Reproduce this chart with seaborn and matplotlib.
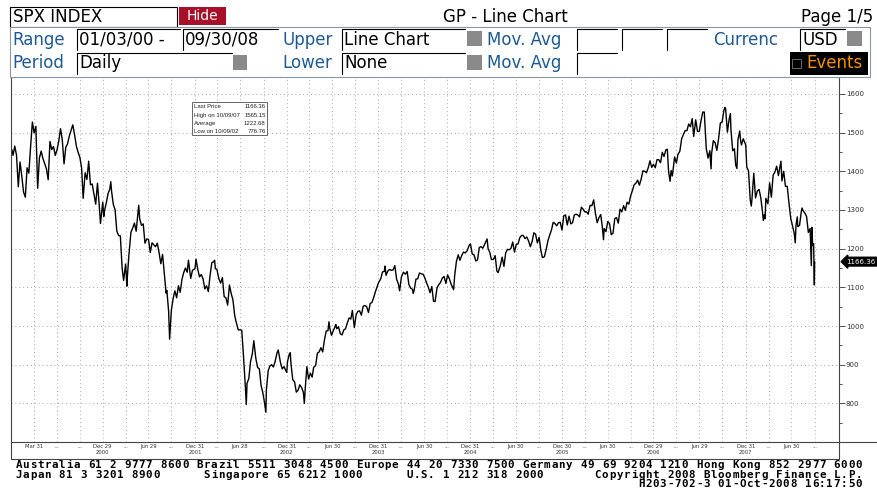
import pandas as pd
import numpy as np
import matplotlib.pyplot as plt
import matplotlib.dates as mdates
import seaborn as sns
from matplotlib.patches import Rectangle
from matplotlib.lines import Line2D

# SPX closes (weekly-ish, with the daily extremes)
d2000 = ["01-03","01-07","01-14","01-21","01-28","02-04","02-11","02-18","02-25","03-03","03-10","03-17","03-24","03-31",
         "04-07","04-14","04-21","04-28","05-05","05-12","05-19","05-26","06-02","06-09","06-16","06-23","06-30",
         "07-07","07-14","07-21","07-28","08-04","08-11","08-18","08-25","09-01","09-08","09-15","09-22","09-29",
         "10-06","10-12","10-20","10-27","11-03","11-10","11-17","11-24","12-01","12-08","12-15","12-20","12-29"]
c2000 = [1455,1441,1465,1441,1360,1424,1387,1346,1333,1409,1395,1464,1527,1499,
         1516,1356,1434,1452,1433,1420,1406,1378,1477,1456,1464,1441,1455,
         1478,1510,1481,1419,1462,1471,1491,1506,1520,1494,1465,1449,1436,
         1408,1330,1396,1379,1426,1365,1367,1341,1315,1369,1312,1265,1320]

d2001 = ["01-02","01-05","01-12","01-19","01-26","01-30","02-02","02-09","02-16","02-23","03-02","03-09","03-16","03-22","03-30",
         "04-04","04-06","04-12","04-20","04-27","05-04","05-11","05-21","05-25","06-01","06-08","06-15","06-22","06-29",
         "07-06","07-13","07-20","07-27","08-03","08-10","08-17","08-24","08-31","09-07","09-10","09-17","09-21","09-28",
         "10-05","10-12","10-19","10-26","11-02","11-09","11-16","11-23","11-30","12-05","12-14","12-21","12-31"]
c2001 = [1283,1298,1318,1342,1354,1373,1349,1314,1301,1245,1234,1233,1150,1118,1160,
         1103,1128,1183,1242,1253,1266,1245,1312,1277,1260,1264,1214,1225,1224,
         1190,1215,1210,1205,1214,1190,1161,1185,1134,1085,1092,1039,966,1041,
         1071,1091,1073,1104,1087,1120,1138,1150,1139,1170,1123,1144,1148]

d2002 = ["01-04","01-11","01-18","01-25","02-01","02-08","02-15","02-22","03-01","03-08","03-15","03-19","03-22","03-28",
         "04-05","04-12","04-19","04-26","05-03","05-10","05-17","05-24","05-31","06-07","06-14","06-21","06-28",
         "07-05","07-12","07-19","07-23","07-26","08-02","08-09","08-16","08-22","08-30","09-06","09-13","09-20","09-27",
         "10-04","10-09","10-11","10-18","10-25","11-01","11-08","11-15","11-22","11-27","12-06","12-13","12-20","12-31"]
c2002 = [1173,1146,1127,1133,1122,1096,1104,1089,1131,1164,1166,1170,1148,1147,
         1122,1111,1125,1076,1073,1054,1106,1084,1067,1027,1007,990,990,
         989,921,847,797,852,864,908,928,962,916,893,889,846,827,
         800,777,835,884,897,900,894,909,930,938,906,889,895,880]

d2003 = ["01-03","01-10","01-14","01-17","01-24","01-31","02-07","02-14","02-21","02-28","03-07","03-11","03-14","03-21","03-28",
         "04-04","04-11","04-17","04-25","05-02","05-09","05-16","05-23","05-30","06-06","06-13","06-17","06-20","06-27",
         "07-03","07-11","07-14","07-18","07-25","08-01","08-08","08-15","08-22","08-29","09-05","09-12","09-18","09-26",
         "10-03","10-10","10-17","10-24","10-31","11-07","11-14","11-21","11-28","12-05","12-12","12-19","12-31"]
c2003 = [908,927,931,901,861,856,829,834,848,841,829,800,833,895,863,
         878,868,893,898,930,933,944,933,964,987,988,1011,995,976,
         986,998,1004,993,998,980,977,990,993,1008,1021,1018,1040,996,
         1029,1038,1039,1028,1051,1053,1050,1035,1058,1061,1074,1089,1112]

d2004 = ["01-09","01-16","01-23","01-26","01-30","02-06","02-13","02-20","02-27","03-05","03-12","03-19","03-24","03-31",
         "04-08","04-16","04-23","04-30","05-07","05-14","05-17","05-21","05-28","06-04","06-11","06-18","06-25",
         "07-02","07-09","07-16","07-23","07-30","08-06","08-12","08-20","08-27","09-03","09-10","09-17","09-24",
         "10-01","10-08","10-15","10-25","10-29","11-05","11-12","11-19","11-26","12-03","12-10","12-17","12-27","12-31"]
c2004 = [1122,1140,1141,1155,1131,1142,1146,1144,1145,1156,1121,1109,1091,1126,
         1139,1134,1141,1107,1098,1095,1084,1093,1121,1122,1137,1135,1134,
         1125,1112,1101,1086,1102,1064,1063,1099,1107,1113,1124,1128,1110,
         1132,1122,1108,1094,1130,1167,1184,1170,1182,1191,1189,1194,1210,1212]

d2005 = ["01-07","01-14","01-21","01-28","02-04","02-11","02-18","02-25","03-07","03-11","03-18","03-24",
         "04-01","04-08","04-15","04-20","04-29","05-06","05-13","05-20","05-27","06-03","06-10","06-17","06-24",
         "07-01","07-08","07-15","07-22","07-29","08-05","08-12","08-19","08-26","09-02","09-09","09-16","09-23","09-30",
         "10-07","10-13","10-21","10-28","11-04","11-11","11-18","11-25","12-02","12-09","12-16","12-23","12-30"]
c2005 = [1186,1184,1168,1171,1203,1205,1201,1211,1225,1200,1190,1172,
         1172,1182,1142,1138,1157,1178,1154,1189,1198,1197,1201,1217,1191,
         1211,1212,1228,1234,1234,1226,1230,1220,1205,1218,1241,1237,1215,1229,
         1195,1177,1179,1198,1220,1235,1248,1268,1265,1259,1267,1268,1248]

d2006 = ["01-06","01-13","01-20","01-27","02-03","02-10","02-17","02-24","03-03","03-10","03-17","03-24","03-31",
         "04-07","04-13","04-21","04-28","05-05","05-12","05-19","05-26","06-02","06-09","06-13","06-16","06-23","06-30",
         "07-07","07-14","07-21","07-28","08-04","08-11","08-18","08-25","09-01","09-08","09-15","09-22","09-29",
         "10-06","10-13","10-20","10-27","11-03","11-10","11-17","11-24","12-01","12-08","12-15","12-22","12-29"]
c2006 = [1285,1287,1261,1284,1264,1267,1287,1289,1287,1282,1307,1302,1295,
         1295,1289,1312,1311,1326,1291,1267,1280,1288,1253,1223,1252,1244,1270,
         1265,1236,1240,1278,1280,1266,1302,1295,1311,1299,1320,1315,1336,
         1350,1365,1369,1377,1364,1380,1401,1400,1396,1409,1427,1410,1418]

d2007 = ["01-05","01-12","01-19","01-26","02-02","02-09","02-16","02-22","02-27","03-05","03-09","03-14","03-23","03-30",
         "04-05","04-13","04-20","04-27","05-04","05-11","05-18","05-25","06-01","06-07","06-15","06-22","06-29",
         "07-06","07-13","07-19","07-27","08-03","08-10","08-15","08-17","08-24","08-31","09-07","09-14","09-21","09-28",
         "10-05","10-09","10-12","10-19","10-26","10-31","11-02","11-09","11-16","11-21","11-26","11-30",
         "12-07","12-11","12-14","12-21","12-31"]
c2007 = [1409,1430,1430,1422,1449,1438,1455,1457,1399,1374,1402,1388,1437,1421,
         1443,1452,1484,1495,1505,1505,1522,1515,1536,1490,1533,1503,1503,
         1530,1553,1553,1458,1434,1453,1406,1445,1479,1474,1454,1484,1525,1527,
         1557,1565,1561,1501,1535,1549,1509,1453,1458,1416,1407,1481,
         1504,1477,1468,1484,1468]

d2008 = ["01-04","01-11","01-18","01-22","01-25","02-01","02-08","02-15","02-22","02-29","03-07","03-10","03-14","03-17","03-20","03-28",
         "04-04","04-11","04-18","04-25","05-02","05-09","05-19","05-23","05-30","06-06","06-13","06-20","06-27",
         "07-03","07-11","07-15","07-18","07-23","07-25","08-01","08-08","08-11","08-15","08-22","08-29",
         "09-05","09-12","09-15","09-17","09-19","09-22","09-26","09-29","09-30"]
c2008 = [1411,1401,1325,1310,1330,1395,1331,1349,1353,1331,1293,1273,1288,1277,1330,1316,
         1370,1333,1390,1398,1413,1389,1426,1375,1400,1361,1361,1318,1278,
         1262,1239,1215,1261,1282,1257,1260,1296,1305,1298,1292,1283,
         1242,1252,1193,1156,1255,1208,1213,1106,1166.36]

# quarter-end ticks, labelled the Bloomberg way
q_dates = ["2000-03-31","2000-06-30","2000-09-29","2000-12-29","2001-03-30","2001-06-29","2001-09-28","2001-12-31",
           "2002-03-28","2002-06-28","2002-09-30","2002-12-31","2003-03-31","2003-06-30","2003-09-30","2003-12-31",
           "2004-03-31","2004-06-30","2004-09-30","2004-12-31","2005-03-31","2005-06-30","2005-09-30","2005-12-30",
           "2006-03-31","2006-06-30","2006-09-29","2006-12-29","2007-03-30","2007-06-29","2007-09-28","2007-12-31",
           "2008-03-31","2008-06-30","2008-09-30"]
q_labels = ["Mar 31","...","...","Dec 29\n2000","...","Jun 29","...","Dec 31\n2001",
            "...","Jun 28","...","Dec 31\n2002","...","Jun 30","...","Dec 31\n2003",
            "...","Jun 30","...","Dec 31\n2004","...","Jun 30","...","Dec 30\n2005",
            "...","Jun 30","...","Dec 29\n2006","...","Jun 29","...","Dec 31\n2007",
            "...","Jun 30","..."]

info_labels = ["Last Price", "High on 10/09/07", "Average", "Low on 10/09/02"]
info_values = ["1166.36", "1565.15", "1222.68", "776.76"]
last_price = 1166.36

years = [(2000, d2000, c2000), (2001, d2001, c2001), (2002, d2002, c2002), (2003, d2003, c2003),
         (2004, d2004, c2004), (2005, d2005, c2005), (2006, d2006, c2006), (2007, d2007, c2007),
         (2008, d2008, c2008)]
frames = []
for yr, dd, cc in years:
    frames.append(pd.DataFrame({"date": pd.to_datetime([f"{yr}-{d}" for d in dd]), "close": cc}))
df = pd.concat(frames, ignore_index=True)

sns.set_style("white")
plt.rcParams['font.family'] = ['DejaVu Sans']

W, H = 877, 493
fig = plt.figure(figsize=(W / 100, H / 100), dpi=100)

def fx(x):
    return x / W

def fy(y):
    return 1 - y / H

def rect(x0, y0, x1, y1, fc, ec="none", lw=0.8):
    fig.add_artist(Rectangle((fx(x0), fy(y1)), (x1 - x0) / W, (y1 - y0) / H,
                             transform=fig.transFigure, facecolor=fc, edgecolor=ec, linewidth=lw))

def line(x0, y0, x1, y1, color="#444444", lw=0.8):
    fig.add_artist(Line2D([fx(x0), fx(x1)], [fy(y0), fy(y1)], transform=fig.transFigure, color=color, linewidth=lw))

def inbox(x0, y0, x1, y1):
    # entry field: white with dark top/left edge
    rect(x0, y0, x1, y1, "white")
    line(x0, y0, x1, y0, "black", 0.8)
    line(x0, y0, x0, y1, "black", 0.8)

blue = "#1d5a94"
grey_sq = "#8a8a8a"

# ---- chart ----
ax = fig.add_axes([fx(11), fy(441.7), 828 / W, (441.7 - 78) / H])
sns.lineplot(data=df, x="date", y="close", ax=ax, color="black", linewidth=1.0)

ax.set_xlim(pd.Timestamp("1999-12-30"), pd.Timestamp("2009-01-05"))
ax.set_ylim(701, 1641)
ax.set_xlabel("")
ax.set_ylabel("")

ax.yaxis.tick_right()
ax.set_yticks(range(800, 1700, 100))
ax.set_yticks(range(750, 1650, 50), minor=True)
ax.tick_params(axis="y", which="major", direction="out", length=4, width=0.6, labelsize=5, pad=1,
               colors="#333333", right=True, left=False)
ax.tick_params(axis="y", which="minor", direction="out", length=2, width=0.6, colors="#333333",
               right=True, left=False)

ax.set_xticks(pd.to_datetime(q_dates))
ax.set_xticklabels(q_labels)
ax.xaxis.set_minor_locator(mdates.MonthLocator())
ax.tick_params(axis="x", which="major", direction="in", length=3, width=0.6, labelsize=3.8, pad=1.5,
               colors="#333333")
ax.tick_params(axis="x", which="minor", direction="in", length=2, width=0.5, colors="#333333")

ax.grid(True, which="major", color="#a8a8a8", linestyle=(0, (1, 3)), linewidth=0.7)
ax.spines["top"].set_visible(False)
for s in ["left", "right", "bottom"]:
    ax.spines[s].set_color("#444444")
    ax.spines[s].set_linewidth(0.8)

ax.annotate(f"{last_price:.2f}", xy=(1.0, last_price), xycoords=("axes fraction", "data"),
            xytext=(5, 0), textcoords="offset points", ha="left", va="center", fontsize=5, color="white",
            bbox=dict(boxstyle="larrow,pad=0.2", fc="black", ec="black"), annotation_clip=False)

# stats box
rect(192, 102, 267, 135, "white", "#666666", 0.7)
for i, (lab, val) in enumerate(zip(info_labels, info_values)):
    yy = 107 + i * 8.2
    fig.text(fx(194), fy(yy), lab, fontsize=4.3, va="center", ha="left", color="#222222", family="Liberation Sans")
    fig.text(fx(265.5), fy(yy), val, fontsize=4.3, va="center", ha="right", color="#222222", family="Liberation Sans")

# frame under the axis (label strip)
line(11, 441.7, 11, 459)
line(839, 441.7, 839, 459)
line(11, 459, 839, 459)
line(839, 441.7, 877, 441.7)

# ---- header ----
rect(10, 7, 177, 27, "white", "black", 0.8)
fig.text(fx(13), fy(17), "SPX INDEX", fontsize=12, va="center", color="black")
rect(179, 7, 226, 25, "#a8102a")
fig.text(fx(202.5), fy(16.5), "Hide", fontsize=10, va="center", ha="center", color="white")
fig.text(fx(505), fy(17), "GP - Line Chart", fontsize=12, va="center", ha="center", color="black")
fig.text(fx(873), fy(17), "Page 1/5", fontsize=12, va="center", ha="right", color="black")

rect(10, 27, 870, 77, "white", "#8a96a3", 0.8)

# row 2
fig.text(fx(12), fy(40), "Range", fontsize=12, va="center", color=blue)
inbox(77, 29, 180, 50)
fig.text(fx(79), fy(40), "01/03/00 -", fontsize=12, va="center", color="black")
inbox(183, 29, 278, 50)
fig.text(fx(185), fy(40), "09/30/08", fontsize=12, va="center", color="black")
fig.text(fx(282), fy(40), "Upper", fontsize=12, va="center", color=blue)
inbox(342, 29, 465, 50)
fig.text(fx(344), fy(40), "Line Chart", fontsize=12, va="center", color="black")
rect(467, 31, 482, 46, grey_sq)
fig.text(fx(487), fy(40), "Mov. Avg", fontsize=12, va="center", color=blue)
for x0, x1 in [(577, 617), (622, 662), (667, 707)]:
    inbox(x0, 29, x1, 50)
fig.text(fx(713), fy(40), "Currenc", fontsize=12, va="center", color=blue)
inbox(800, 29, 845, 50)
fig.text(fx(802), fy(40), "USD", fontsize=12, va="center", color="black")
rect(847, 31, 862, 46, grey_sq)

# row 3
fig.text(fx(12), fy(63), "Period", fontsize=12, va="center", color=blue)
inbox(77, 53, 232, 74)
fig.text(fx(79), fy(63), "Daily", fontsize=12, va="center", color="black")
rect(233, 55, 247, 70, grey_sq)
fig.text(fx(282), fy(63), "Lower", fontsize=12, va="center", color=blue)
inbox(342, 53, 465, 74)
fig.text(fx(344), fy(63), "None", fontsize=12, va="center", color="black")
rect(467, 55, 482, 70, grey_sq)
fig.text(fx(487), fy(63), "Mov. Avg", fontsize=12, va="center", color=blue)
inbox(577, 53, 617, 74)
rect(790, 52, 868, 75, "black")
rect(792, 59, 801, 68, "black", "#777777", 0.6)
fig.text(fx(806), fy(63), "Events", fontsize=12, va="center", color="#f39200")

# ---- footer (fixed-width grid) ----
foot1 = "Australia 61 2 9777 8600 Brazil 5511 3048 4500 Europe 44 20 7330 7500 Germany 49 69 9204 1210 Hong Kong 852 2977 6000"
foot2 = "Japan 81 3 3201 8900      Singapore 65 6212 1000      U.S. 1 212 318 2000       Copyright 2008 Bloomberg Finance L.P."
foot3 = "H203-702-3 01-Oct-2008 16:17:50"
step = 7.24
for txt, start, yy in [(foot1, 0, 465), (foot2, 0, 474.5), (foot3, 117 - len(foot3), 484)]:
    for i, ch in enumerate(txt):
        if ch != " ":
            fig.text(fx(15 + (start + i) * step + step / 2), fy(yy), ch, fontsize=7.8, ha="center", va="center",
                     family="DejaVu Sans Mono", weight="bold", color="black")

fig.savefig("out.png", dpi=100)
